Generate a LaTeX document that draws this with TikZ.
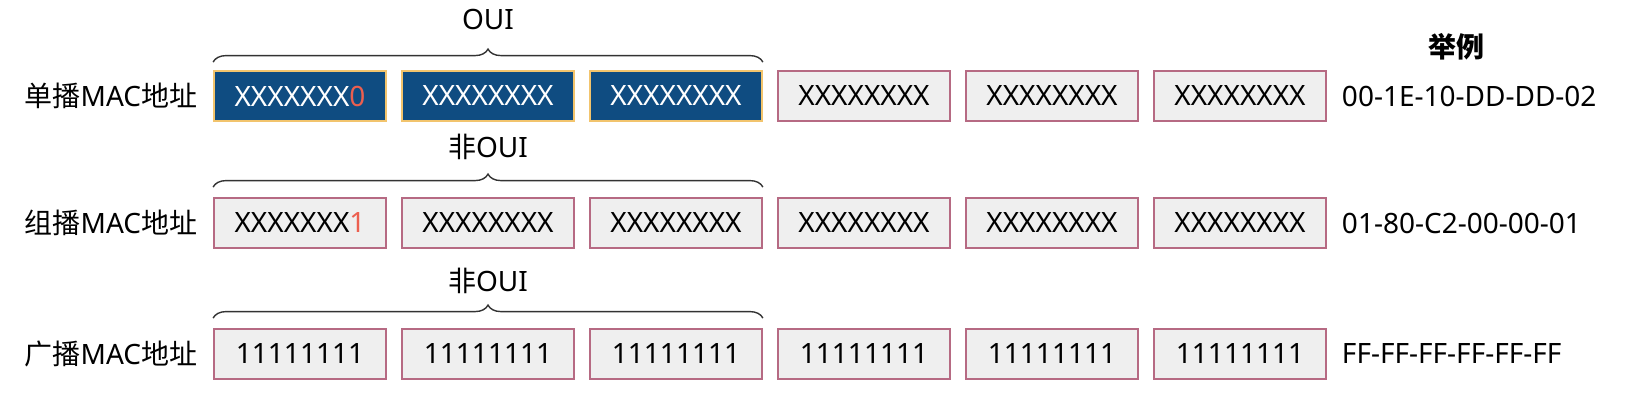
\documentclass[tikz,border=0pt]{standalone}
\usepackage{fontspec}
\setmainfont{Noto Sans}
\newfontfamily\cjk{Noto Sans CJK SC}
\usetikzlibrary{positioning,decorations.pathreplacing}
\definecolor{ouiblue}{HTML}{0F4C81}
\definecolor{ouigold}{HTML}{F2C46D}
\definecolor{cellgray}{HTML}{EFEFEF}
\definecolor{cellrim}{HTML}{B66A83}
\definecolor{bitred}{HTML}{EC5F4F}

\begin{document}
\begin{tikzpicture}[x=0.5pt,y=-0.5pt,
    every node/.style={font=\fontsize{14}{16}\selectfont},
    cell/.style={draw=cellrim, fill=cellgray, line width=0.9pt, minimum width=86pt, minimum height=25pt, inner sep=0pt},
    ouicell/.style={cell, draw=ouigold, fill=ouiblue, text=white},
    span/.style={decorate, decoration={brace, amplitude=6.5pt}, draw=black!80, line width=0.7pt}]
    \useasboundingbox (0,0) rectangle (1637,401);
    % unicast
    \node[ouicell] (u1) at (300,96) {XXXXXXX\textcolor{bitred}{0}};
    \foreach \i/\x in {2/488,3/676}
        \node[ouicell] (u\i) at (\x,96) {XXXXXXXX};
    \foreach \i/\x in {4/864,5/1052,6/1240}
        \node[cell] (u\i) at (\x,96) {XXXXXXXX};
    % multicast
    \node[cell] (m1) at (300,223) {XXXXXXX\textcolor{bitred}{1}};
    \foreach \i/\x in {2/488,3/676,4/864,5/1052,6/1240}
        \node[cell] (m\i) at (\x,223) {XXXXXXXX};
    % broadcast
    \foreach \i/\x in {1/300,2/488,3/676,4/864,5/1052,6/1240}
        \node[cell] (b\i) at (\x,354) {11111111};
    % row labels
    \node[left=4.5pt of u1] (ulabel) {{\cjk 单播}MAC{\cjk 地址}};
    \node[left=4.5pt of m1] (mlabel) {{\cjk 组播}MAC{\cjk 地址}};
    \node[left=4.5pt of b1] (blabel) {{\cjk 广播}MAC{\cjk 地址}};
    % examples
    \node at (1456,47) (exhead) {\cjk\bfseries 举例};
    \node[right=4pt of u6] (uex) {00-1E-10-DD-DD-02};
    \node[right=4pt of m6] (mex) {01-80-C2-00-00-01};
    \node[right=4pt of b6] (bex) {FF-FF-FF-FF-FF-FF};
    % braces
    \draw[span] ([yshift=4pt]u1.north west) -- ([yshift=4pt]u3.north east)
        node[midway, above=12.5pt] (uoui) {OUI};
    \draw[span] ([yshift=5pt]m1.north west) -- ([yshift=5pt]m3.north east)
        node[midway, above=10pt] (moui) {{\cjk 非}OUI};
    \draw[span] ([yshift=5pt]b1.north west) -- ([yshift=5pt]b3.north east)
        node[midway, above=8.5pt] (boui) {{\cjk 非}OUI};
\end{tikzpicture}
\end{document}
